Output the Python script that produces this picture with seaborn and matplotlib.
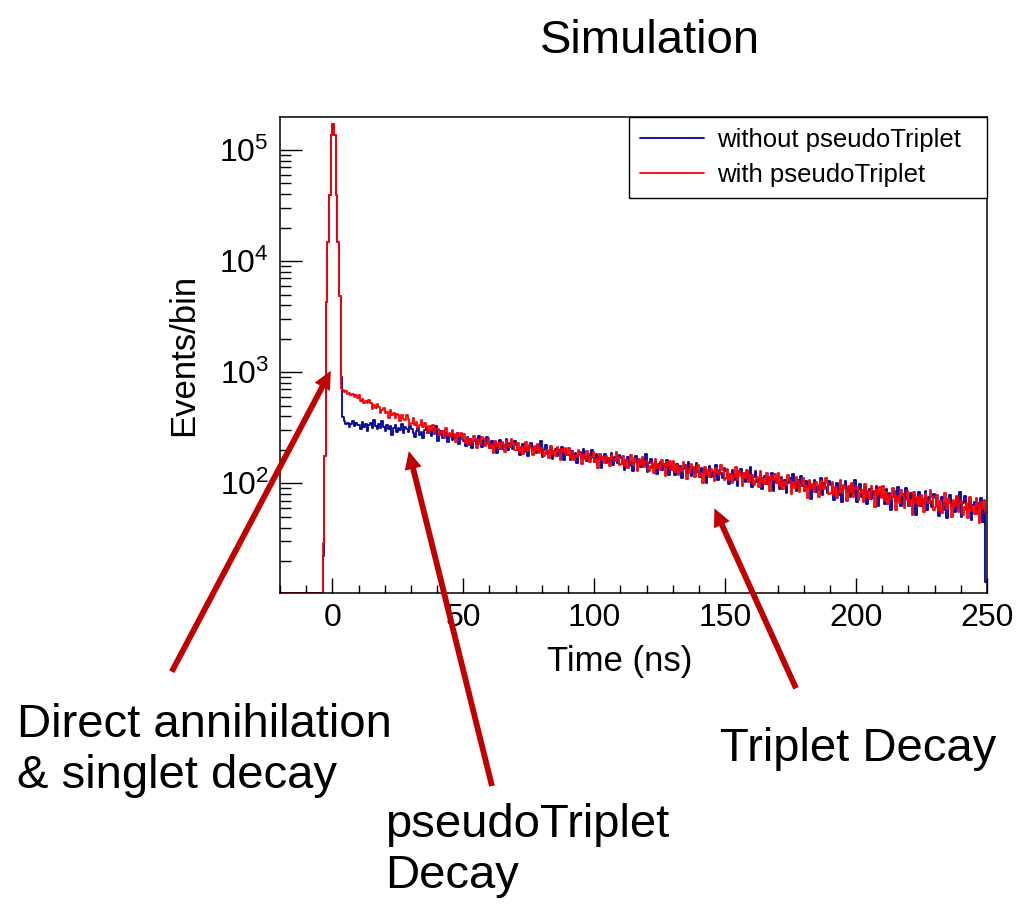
"""
Positron lifetime spectrum, with / without pseudoTriplet (simulation)
"""

import numpy as np
import pandas as pd
import matplotlib
matplotlib.use('Agg')
import matplotlib.pyplot as plt
from matplotlib.ticker import LogLocator, MultipleLocator, NullFormatter
import seaborn as sns


sns.set_style('ticks')
plt.rcParams['font.family'] = ['Liberation Sans', 'DejaVu Sans']
plt.rcParams['mathtext.default'] = 'regular'
plt.rcParams['text.color'] = 'black'
plt.rcParams['axes.labelcolor'] = 'black'

# binning of the time histogram (ns)
bin_width = 0.625
x_lo, x_hi = -20.0, 250.0
n_empty = 26          # empty bins in front of the prompt peak

# prompt peak, bins from -3.75 ns to 3.75 ns
peak_blue = [22, 176, 4300, 14700, 39000, 135000, 171000, 135000, 39000, 15000, 4900, 900]
peak_red = [29, 176, 4300, 14700, 39000, 135000, 171000, 135000, 39000, 15000, 4900, 700]

# tail, bins from 3.75 ns to 250 ns (16 bins = 10 ns per row)
tail_blue = [
    398, 366, 341, 352, 318, 344, 361, 329, 350, 337,
    335, 308, 357, 323, 344, 296, 332, 350, 317, 368, 326, 305, 341, 314, 361, 321,
    296, 333, 308, 326, 271, 317, 338, 292, 314, 299, 343, 284, 322, 310, 291, 331,
    307, 283, 259, 297, 312, 273, 291, 254, 302, 319, 281, 293, 268, 305, 278, 327,
    240, 273, 294, 254, 260, 281, 233, 268, 276, 246, 272, 257, 286, 228, 264, 251,
    241, 218, 259, 230, 248, 207, 238, 253, 225, 268, 233, 214, 245, 222, 262, 228,
    208, 239, 219, 233, 187, 226, 244, 205, 223, 211, 248, 198, 230, 220, 204, 238,
    221, 201, 181, 212, 225, 192, 208, 176, 216, 231, 199, 209, 188, 219, 196, 238,
    172, 201, 219, 184, 190, 208, 166, 197, 203, 177, 199, 187, 212, 162, 192, 181,
    181, 161, 197, 172, 188, 152, 178, 192, 168, 205, 174, 158, 185, 165, 200, 170,
    155, 182, 164, 177, 137, 170, 185, 152, 168, 157, 189, 146, 174, 165, 151, 180,
    168, 150, 133, 160, 171, 143, 156, 129, 164, 176, 149, 158, 139, 166, 147, 183,
    126, 151, 167, 137, 142, 157, 121, 148, 154, 131, 150, 139, 161, 118, 144, 135,
    136, 119, 150, 128, 142, 111, 134, 146, 125, 157, 131, 117, 140, 123, 153, 127,
    115, 138, 123, 134, 100, 128, 142, 113, 126, 117, 145, 107, 132, 124, 112, 137,
    128, 113, 98, 121, 131, 106, 118, 94, 125, 135, 112, 119, 103, 127, 110, 141,
    93, 115, 129, 103, 107, 120, 89, 112, 117, 98, 114, 105, 124, 86, 109, 101,
    103, 88, 115, 96, 108, 81, 101, 111, 93, 121, 98, 86, 106, 91, 117, 95,
    85, 105, 92, 102, 72, 97, 108, 83, 95, 87, 111, 79, 100, 93, 82, 105,
    97, 84, 71, 92, 100, 79, 89, 68, 94, 104, 83, 90, 76, 96, 81, 108,
    68, 87, 99, 76, 80, 92, 65, 85, 89, 72, 86, 78, 95, 62, 82, 75,
    78, 65, 88, 72, 82, 58, 76, 85, 69, 93, 73, 63, 80, 67, 90, 71,
    63, 81, 69, 78, 52, 73, 83, 62, 72, 65, 86, 57, 76, 70, 61, 80,
    74, 63, 51, 69, 76, 58, 67, 49, 71, 79, 62, 67, 55, 73, 60, 83,
    50, 66, 77, 57, 60, 70, 47, 64, 68, 53, 66, 59, 73, 45, 61, 13,
]
tail_red = [
    694, 661, 678, 642, 655, 618, 637, 601, 624, 589,
    621, 555, 578, 526, 548, 525, 561, 533, 468, 504, 474, 512, 485, 433, 453, 472,
    427, 437, 390, 454, 414, 426, 391, 422, 408, 361, 413, 383, 370, 413, 383, 338,
    349, 385, 334, 357, 317, 335, 373, 318, 347, 325, 285, 329, 304, 334, 281, 305,
    311, 271, 287, 297, 258, 313, 270, 281, 259, 300, 279, 234, 283, 264, 285, 250,
    277, 232, 257, 222, 246, 235, 269, 253, 210, 244, 227, 263, 249, 215, 236, 258,
    210, 221, 189, 242, 216, 229, 205, 233, 226, 193, 238, 219, 213, 250, 230, 199,
    198, 229, 192, 214, 185, 202, 235, 195, 221, 206, 178, 216, 199, 226, 188, 209,
    208, 176, 191, 201, 170, 217, 183, 194, 177, 213, 197, 161, 203, 190, 209, 180,
    208, 169, 190, 161, 181, 172, 201, 188, 150, 180, 165, 196, 184, 154, 173, 192,
    156, 166, 138, 184, 161, 173, 152, 177, 170, 142, 180, 164, 159, 191, 174, 147,
    148, 175, 143, 161, 137, 152, 180, 145, 168, 155, 130, 164, 149, 173, 139, 158,
    157, 130, 143, 151, 125, 166, 136, 145, 131, 162, 148, 117, 154, 142, 159, 133,
    159, 126, 145, 119, 136, 128, 154, 142, 110, 135, 123, 149, 139, 113, 130, 146,
    116, 125, 101, 141, 121, 131, 113, 134, 128, 104, 137, 123, 118, 146, 132, 108,
    111, 134, 106, 122, 101, 114, 139, 108, 128, 117, 95, 125, 112, 132, 103, 119,
    120, 97, 108, 115, 92, 128, 102, 110, 98, 125, 112, 85, 117, 107, 122, 100,
    123, 94, 110, 88, 103, 96, 118, 108, 80, 102, 91, 114, 105, 83, 97, 111,
    86, 94, 73, 107, 90, 99, 83, 102, 97, 76, 105, 92, 88, 112, 100, 80,
    82, 103, 79, 93, 74, 85, 107, 81, 97, 88, 69, 94, 83, 101, 76, 90,
    92, 71, 81, 87, 68, 98, 76, 83, 72, 95, 85, 61, 89, 80, 93, 74,
    95, 70, 84, 65, 78, 72, 91, 82, 58, 77, 67, 87, 79, 60, 72, 85,
    64, 71, 52, 83, 67, 75, 62, 78, 73, 55, 80, 69, 66, 87, 76, 58,
    61, 79, 58, 70, 54, 63, 82, 59, 74, 66, 50, 71, 62, 77, 55, 67,
    70, 52, 61, 66, 49, 76, 56, 63, 53, 73, 64, 44, 68, 60, 71, 55,
]

labels = ['without pseudoTriplet', 'with pseudoTriplet']
colors = ['#000099', '#ff0000']

y_lo, y_hi = 10.3, 1.98e5

edges = np.arange(x_lo, x_hi + bin_width / 2, bin_width)
centers = edges[:-1] + bin_width / 2
blue = np.concatenate([np.zeros(n_empty), peak_blue, tail_blue])
red = np.concatenate([np.zeros(n_empty), peak_red, tail_red])


fig = plt.figure(figsize=(10.29, 9.07), dpi=100)
ax = fig.add_axes([0.2721, 0.3462, 0.6871, 0.5248])
ax.set_yscale('log')

# empty bins are drawn on the bottom frame, as ROOT does
for counts, col, lab in zip([blue, red], colors, labels):
    df = pd.DataFrame({'time': centers, 'events': np.clip(counts, y_lo, None)})
    sns.histplot(data=df, x='time', weights='events', binwidth=bin_width,
                 binrange=(x_lo, x_hi), element='step', fill=False,
                 color=col, linewidth=1.3, label=lab, ax=ax)

ax.set_xlim(x_lo, x_hi)
ax.set_ylim(y_lo, y_hi)

ax.xaxis.set_major_locator(MultipleLocator(50))
ax.xaxis.set_minor_locator(MultipleLocator(10))
ax.yaxis.set_major_locator(LogLocator(base=10, numticks=10))
ax.yaxis.set_minor_locator(LogLocator(base=10, subs=np.arange(2, 10), numticks=20))
ax.yaxis.set_minor_formatter(NullFormatter())

ax.tick_params(axis='both', which='both', direction='in', top=False, right=False,
               color='black', labelcolor='black')
ax.tick_params(axis='x', which='major', length=11, width=1, pad=7, labelsize=23)
ax.tick_params(axis='x', which='minor', length=6, width=1)
ax.tick_params(axis='y', which='major', length=16, width=1, pad=8, labelsize=23)
ax.tick_params(axis='y', which='minor', length=8, width=1)
for sp in ax.spines.values():
    sp.set_color('black')
    sp.set_linewidth(1.1)

ax.set_xlabel('Time (ns)', fontsize=25)
ax.set_ylabel('Events/bin', fontsize=25)
ax.xaxis.set_label_coords(0.48, -0.109)
ax.yaxis.set_label_coords(-0.113, 0.5)

leg = ax.legend(handles=ax.lines[:2], loc='upper left',
                bbox_to_anchor=(0.4936, 0, 0.5064, 1.0), mode='expand',
                borderaxespad=0, fontsize=18.5, handlelength=2.5,
                handletextpad=0.5, borderpad=0.42, labelspacing=0.45,
                fancybox=False, edgecolor='black', framealpha=1)
leg.get_frame().set_linewidth(1.0)

# arrows and notes
arrow_kw = dict(arrowstyle='simple,head_length=0.65,head_width=0.62,tail_width=0.21',
                color='#c00000', linewidth=0, mutation_scale=20,
                shrinkA=0, shrinkB=0)
ax.annotate('', xy=(-0.6, 1030), xytext=(0.1669, 0.2594),
            textcoords='figure fraction', arrowprops=arrow_kw, annotation_clip=False)
ax.annotate('', xy=(29.2, 195), xytext=(0.4781, 0.1334),
            textcoords='figure fraction', arrowprops=arrow_kw, annotation_clip=False)
ax.annotate('', xy=(145.9, 59.6), xytext=(0.7736, 0.2411),
            textcoords='figure fraction', arrowprops=arrow_kw, annotation_clip=False)

fig.text(0.0165, 0.2249, 'Direct annihilation\n& singlet decay', fontsize=34,
         ha='left', va='top')
fig.text(0.3741, 0.1147, 'pseudoTriplet\nDecay', fontsize=34, ha='left', va='top')
fig.text(0.6997, 0.1985, 'Triplet Decay', fontsize=34, ha='left', va='top')
fig.text(0.6317, 0.9416, 'Simulation', fontsize=34, ha='center', va='baseline')

fig.savefig('out.png', dpi=100)
